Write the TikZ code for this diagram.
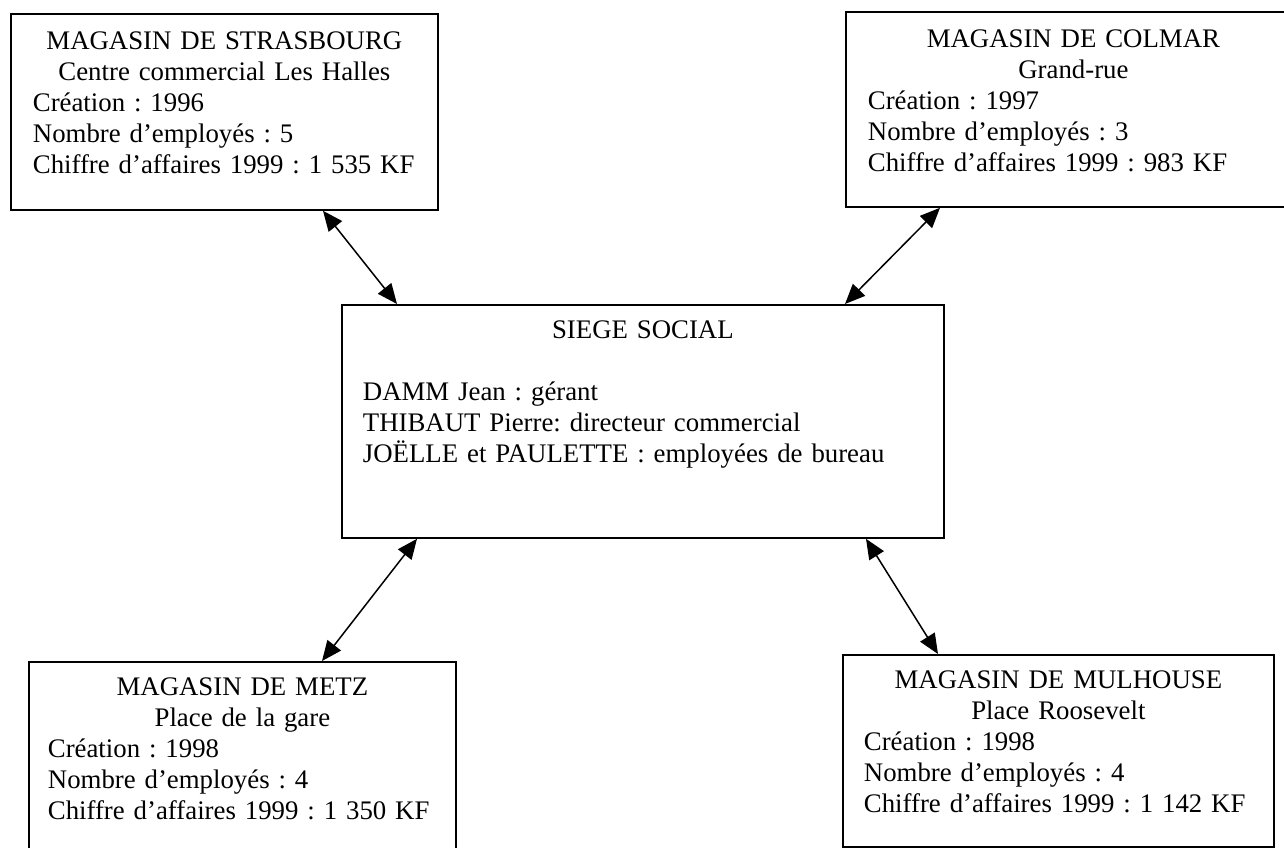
\documentclass[tikz,border=0pt]{standalone}
\usepackage{fontspec}
\setmainfont{Liberation Serif}
\usetikzlibrary{arrows.meta,calc}
\newcommand{\tstrut}{\rule{0pt}{10.85pt}}
\frenchspacing
\begin{document}
\begin{tikzpicture}[x=0.5pt,y=-0.5pt,
  boxframe/.style={draw=black, line width=0.9pt, rectangle, inner sep=0pt, anchor=north west},
  boxtext/.style={inner sep=0pt, anchor=north, font=\fontsize{13.4}{15.5}\selectfont},
  link/.style={line width=0.75pt, {Triangle[length=10pt,width=8.5pt]}-{Triangle[length=10pt,width=8.5pt]}}]
\clip (0,0) rectangle (1284,847);
\useasboundingbox (0,0) rectangle (1284,847);
\fill[white] (0,0) rectangle (1284,847);

% boxes
\node[boxframe, minimum width=213.5pt, minimum height=98pt] (stras) at (10,13) {};
\node[boxframe, minimum width=227.5pt, minimum height=97.5pt] (colmar) at (845,11) {};
\node[boxframe, minimum width=301pt, minimum height=116.5pt] (siege) at (341,304) {};
\node[boxframe, minimum width=213.5pt, minimum height=110pt] (metz) at (28,661) {};
\node[boxframe, minimum width=215.5pt, minimum height=96pt] (mulh) at (842,654) {};

% texts
\node[boxtext, text width=191.5pt] (strastxt) at ($(stras.north)+(0,14.3)$) {%
  {\centering\tstrut MAGASIN DE STRASBOURG\\Centre commercial Les Halles\par}%
  {\raggedright Création : 1996\\Nombre d’employés : 5\\Chiffre d’affaires 1999 : 1~535~KF\par}};
\node[boxtext, text width=205.5pt] (colmartxt) at ($(colmar.north)+(0,14.3)$) {%
  {\centering\tstrut MAGASIN DE COLMAR\\Grand-rue\par}%
  {\raggedright Création : 1997\\Nombre d’employés : 3\\Chiffre d’affaires 1999 : 983~KF\par}};
\node[boxtext, text width=280pt] (siegetxt) at ($(siege.north)+(0,12.3)$) {%
  {\centering\tstrut SIEGE SOCIAL\par}%
  {\raggedright \mbox{}\\DAMM Jean : gérant\\THIBAUT Pierre: directeur commercial\\JOËLLE et PAULETTE : employées de bureau\par}};
\node[boxtext, text width=194.5pt] (metztxt) at ($(metz.north)+(0,12.3)$) {%
  {\centering\tstrut MAGASIN DE METZ\\Place de la gare\par}%
  {\raggedright Création : 1998\\Nombre d’employés : 4\\Chiffre d’affaires 1999 : 1~350~KF\par}};
\node[boxtext, text width=194.5pt] (mulhtxt) at ($(mulh.north)+(0,12.3)$) {%
  {\centering\tstrut MAGASIN DE MULHOUSE\\Place Roosevelt\par}%
  {\raggedright Création : 1998\\Nombre d’employés : 4\\Chiffre d’affaires 1999 : 1~142~KF\par}};

% connectors
\draw[link] ($(stras.south west)+(313,0)$) -- ($(siege.north west)+(56,0)$);
\draw[link] ($(colmar.south west)+(95,0)$) -- ($(siege.north west)+(504,0)$);
\draw[link] ($(siege.south west)+(76,0)$) -- ($(metz.north west)+(294,0)$);
\draw[link] ($(siege.south west)+(525,0)$) -- ($(mulh.north west)+(96,0)$);
\end{tikzpicture}
\end{document}
